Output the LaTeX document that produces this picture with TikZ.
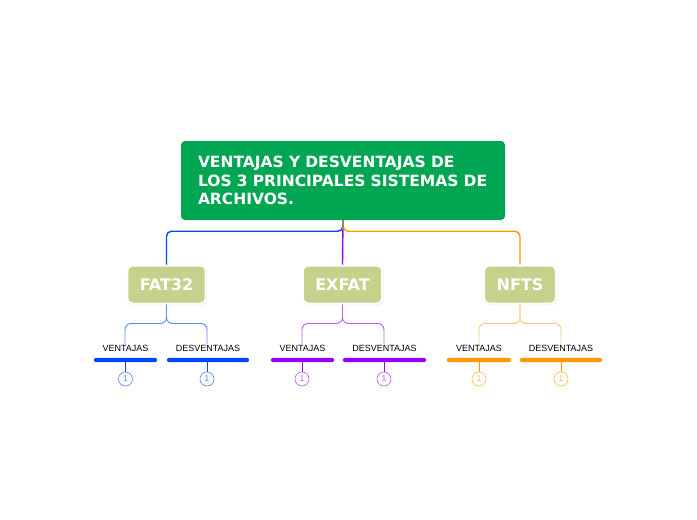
\documentclass[tikz,border=0pt]{standalone}
\usepackage{fontspec}
\setmainfont{DejaVu Sans}
\newfontfamily\labelfont{Liberation Sans}
\usetikzlibrary{positioning,shadows}

\definecolor{titlegreen}{RGB}{0,166,81}
\definecolor{boxolive}{RGB}{196,210,140}
\definecolor{fatblue}{RGB}{0,72,255}
\definecolor{fatlight}{RGB}{90,135,255}
\definecolor{expurple}{RGB}{153,0,255}
\definecolor{exlight}{RGB}{185,90,255}
\definecolor{ntorange}{RGB}{255,153,0}
\definecolor{ntlight}{RGB}{255,200,120}

\begin{document}
\begin{tikzpicture}[x=1pt,y=-1pt,
    main node/.style={fill=titlegreen,rounded corners=4pt,text=white,
        font=\bfseries\fontsize{15.5}{18.5}\selectfont,align=left,
        text width=290pt,inner xsep=17pt,minimum width=324pt,minimum height=79pt},
    sys node/.style={fill=boxolive,draw=white,line width=2pt,rounded corners=5pt,
        text=white,font=\bfseries\fontsize{16}{18}\selectfont,
        inner xsep=12.5pt,minimum height=38pt,
        general shadow={shadow xshift=0.4pt,shadow yshift=-0.8pt,shadow scale=1.02,
            fill=black,opacity=0.14}},
    leaf node/.style={font=\labelfont\fontsize{9}{10}\selectfont,inner sep=1pt},
    bar/.style={fill=#1,rounded corners=2pt,minimum height=4.4pt,inner sep=0pt},
    count node/.style={circle,draw=#1,text=#1,line width=0.6pt,minimum size=14pt,
        inner sep=0pt,font=\labelfont\fontsize{8.5}{9}\selectfont},
    link/.style={line width=1.4pt,rounded corners=5pt},
    twig/.style={line width=0.9pt,rounded corners=6pt}]

    \useasboundingbox (0,0) rectangle (697,520);

    % Define vertices
    \node[main node] (title) at (343,180.5)
        {VENTAJAS Y DESVENTAJAS DE\\LOS 3 PRINCIPALES SISTEMAS DE\\ARCHIVOS.};

    \node[sys node] (fat) at (166.5,284.5) {FAT32};
    \node[sys node] (exfat) at (342.5,284.5) {EXFAT};
    \node[sys node] (nfts) at (520,284.5) {NFTS};

    \node[leaf node] (fatv) at (125.5,348) {VENTAJAS};
    \node[leaf node] (fatd) at (208,348) {DESVENTAJAS};
    \node[leaf node] (exv) at (302.5,348) {VENTAJAS};
    \node[leaf node] (exd) at (384.5,348) {DESVENTAJAS};
    \node[leaf node] (ntv) at (479,348) {VENTAJAS};
    \node[leaf node] (ntd) at (561,348) {DESVENTAJAS};

    \node[bar=fatblue,minimum width=63pt] (fatvbar) at (125.5,360) {};
    \node[bar=fatblue,minimum width=82pt] (fatdbar) at (208,360) {};
    \node[bar=expurple,minimum width=63pt] (exvbar) at (302.5,360) {};
    \node[bar=expurple,minimum width=83pt] (exdbar) at (384.5,360) {};
    \node[bar=ntorange,minimum width=64pt] (ntvbar) at (479,360) {};
    \node[bar=ntorange,minimum width=82pt] (ntdbar) at (561,360) {};

    \node[count node=fatlight] (fatvn) at (125.5,379) {1};
    \node[count node=fatlight] (fatdn) at (207,379) {1};
    \node[count node=exlight] (exvn) at (302,379) {1};
    \node[count node=exlight] (exdn) at (384,379) {1};
    \node[count node=ntorange!70] (ntvn) at (479,379) {1};
    \node[count node=ntorange!70] (ntdn) at (561,379) {1};

    % Draw edges
    \draw[link,fatblue] (title.south) -- ++(0,11) -| (fat.north);
    \draw[link,ntorange] (title.south) -- ++(0,11) -| (nfts.north);
    \draw[link,expurple] (title.south) -- (exfat.north);
    \draw[line width=1.6pt,brown!60!gray] (title.south) -- ++(0,10);

    \draw[twig,fatlight] (fat.south) -- ++(0,19) -| ([xshift=-0.5pt]fatv.north);
    \draw[twig,fatlight] (fat.south) -- ++(0,19) -| ([xshift=-1pt]fatd.north);
    \draw[twig,exlight] (exfat.south) -- ++(0,19) -| ([xshift=-0.5pt]exv.north);
    \draw[twig,exlight] (exfat.south) -- ++(0,19) -| ([xshift=-0.5pt]exd.north);
    \draw[twig,ntlight] (nfts.south) -- ++(0,19) -| (ntv.north);
    \draw[twig,ntlight] (nfts.south) -- ++(0,19) -| (ntd.north);

    \draw[line width=0.9pt,fatblue] (fatvbar) -- (fatvn);
    \draw[line width=0.9pt,fatblue] ([xshift=-1pt]fatdbar.center) -- (fatdn);
    \draw[line width=0.9pt,expurple] ([xshift=-0.5pt]exvbar.center) -- (exvn);
    \draw[line width=0.9pt,expurple] ([xshift=-0.5pt]exdbar.center) -- (exdn);
    \draw[line width=0.9pt,ntorange] (ntvbar) -- (ntvn);
    \draw[line width=0.9pt,ntorange] (ntdbar) -- (ntdn);

\end{tikzpicture}
\end{document}
